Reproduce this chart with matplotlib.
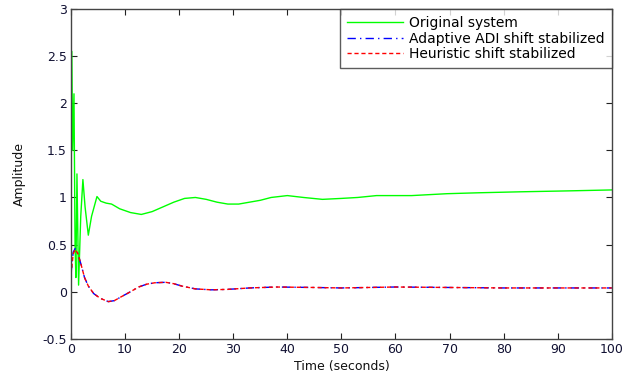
import matplotlib
matplotlib.use("Agg")
import matplotlib.pyplot as plt

# Original system
t_orig = [0, 0.15, 0.3, 0.55, 0.75, 0.9, 1.1, 1.4, 1.8, 2.2, 2.6, 3.2, 3.8, 4.8, 5.5,
          6.5, 7.5, 9, 11, 13, 15, 17, 19, 21, 23, 25, 27, 29, 31, 33, 35, 37, 40,
          43, 46.5, 50, 53, 56.5, 60, 63, 69.5, 75.5, 83, 92, 100]
y_orig = [1.5, 2.55, 1.5, 2.1, 0.5, 0.15, 1.25, 0.07, 0.8, 1.19, 0.9, 0.6, 0.8, 1.01, 0.96,
          0.94, 0.93, 0.88, 0.84, 0.82, 0.85, 0.9, 0.95, 0.99, 1.0, 0.98, 0.95, 0.93, 0.93,
          0.95, 0.97, 1.0, 1.02, 1.0, 0.98, 0.99, 1.0, 1.02, 1.02, 1.02, 1.04, 1.05, 1.06,
          1.07, 1.08]

# Adaptive ADI shift stabilized
t_adi = [0, 0.4, 0.8, 1.3, 1.9, 2.5, 3.2, 4.2, 5.4, 6.9, 8, 9.4, 11, 12.5, 14, 15.5,
         17.5, 19, 20.5, 23, 26, 29, 33, 38, 45, 50, 55, 60, 70, 80, 90, 100]
y_adi = [0.19, 0.42, 0.46, 0.4, 0.28, 0.15, 0.06, -0.02, -0.07, -0.105, -0.095, -0.05,
         0.0, 0.05, 0.08, 0.095, 0.1, 0.085, 0.06, 0.03, 0.02, 0.025, 0.04, 0.05, 0.045,
         0.04, 0.045, 0.05, 0.045, 0.04, 0.04, 0.04]

# Heuristic shift stabilized
t_heu = [0, 0.4, 0.8, 1.3, 1.9, 2.5, 3.2, 4.2, 5.4, 6.9, 8, 9.4, 11, 12.5, 14, 15.5,
         17.5, 19, 20.5, 23, 26, 29, 33, 38, 45, 50, 55, 60, 70, 80, 90, 100]
y_heu = [0.18, 0.4, 0.45, 0.4, 0.28, 0.15, 0.06, -0.02, -0.07, -0.105, -0.095, -0.05,
         0.0, 0.05, 0.08, 0.095, 0.1, 0.085, 0.06, 0.03, 0.02, 0.025, 0.04, 0.05, 0.045,
         0.04, 0.045, 0.05, 0.045, 0.04, 0.04, 0.04]

labels = ["Original system", "Adaptive ADI shift stabilized", "Heuristic shift stabilized"]
xticks = [0, 10, 20, 30, 40, 50, 60, 70, 80, 90, 100]
yticks = [-0.5, 0, 0.5, 1, 1.5, 2, 2.5, 3]
ytick_labels = ["-0.5", "0", "0.5", "1", "1.5", "2", "2.5", "3"]

plt.rcParams['font.family'] = ['DejaVu Sans']
fig = plt.figure(figsize=(6.34, 3.74), dpi=100)
ax = fig.add_axes([0.112, 0.094, 0.853, 0.882])

ax.plot(t_orig, y_orig, color=(0, 1, 0), lw=1.0, label=labels[0])
ax.plot(t_adi, y_adi, color=(0, 0, 1), lw=1.0, dashes=(6, 3, 1, 3), label=labels[1])
ax.plot(t_heu, y_heu, color=(1, 0, 0), lw=1.0, dashes=(3, 2), label=labels[2])

ax.set_xlim(0, 100)
ax.set_ylim(-0.5, 3)
ax.set_xticks(xticks)
ax.set_yticks(yticks)
ax.set_yticklabels(ytick_labels)
ax.tick_params(direction='in', top=True, right=True, length=4, labelsize=9,
               colors='#222222', labelcolor='#111133', pad=3)
for s in ax.spines.values():
    s.set_color('#444444')
    s.set_linewidth(1.0)

ax.set_xlabel("Time (seconds)", fontsize=9, color='#111111', labelpad=3)
ax.set_ylabel("Amplitude", fontsize=9, color='#111111', labelpad=12)

leg = ax.legend(loc='upper right', borderaxespad=0, fontsize=10, handlelength=4.0,
                frameon=True, fancybox=False, edgecolor='#333333',
                borderpad=0.5, labelspacing=0.12, handletextpad=0.45)
leg.get_frame().set_linewidth(1.0)

fig.savefig("out.png", dpi=100)
